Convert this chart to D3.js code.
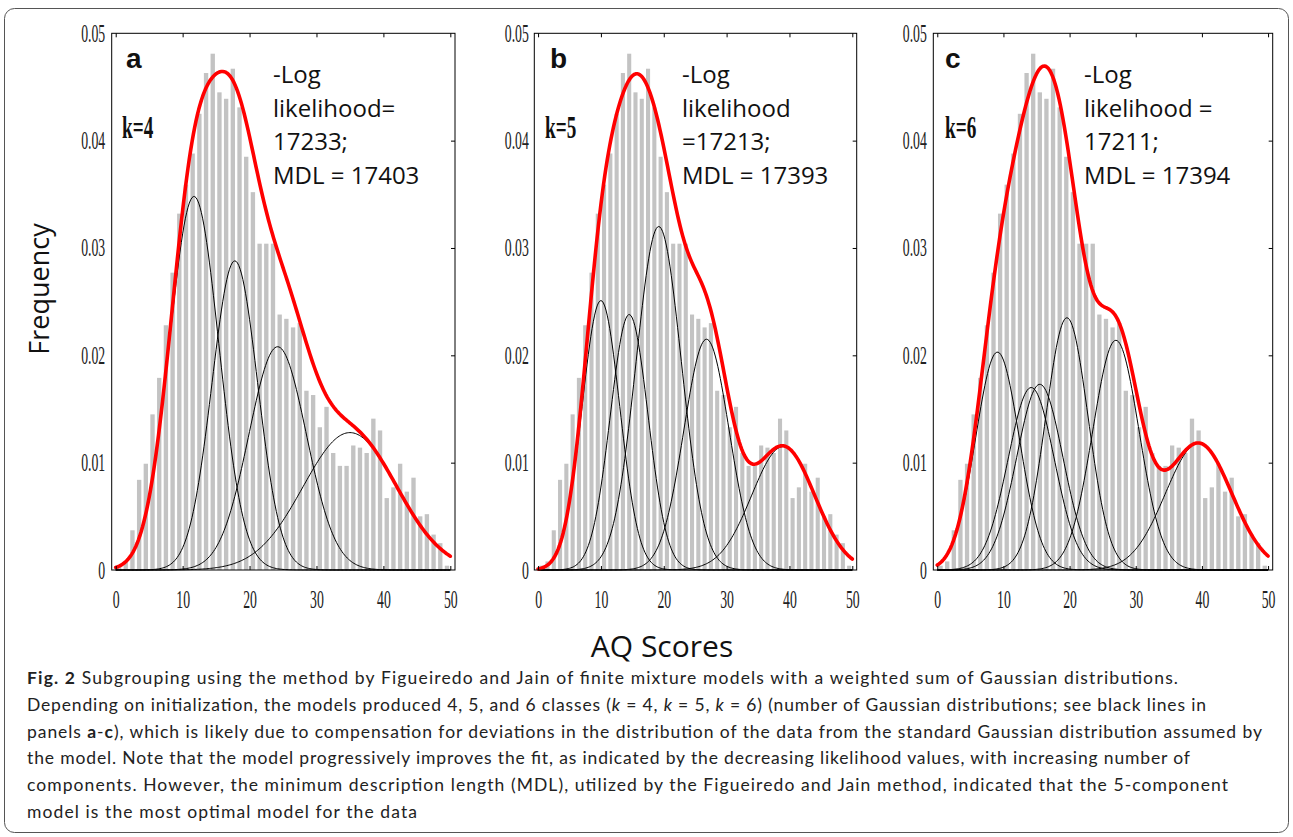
<!DOCTYPE html>
<html>
<head>
<meta charset="utf-8">
<script src="https://cdn.jsdelivr.net/npm/d3@7"></script>
<style>
  body { margin: 0; background: #fff; }
  svg { display: block; }
</style>
</head>
<body>
<div id="figure"></div>
<script>
// histogram of AQ scores (one bin per score, same data in all panels)
const binStart = [0,1,2,3,4,5,6,7,8,9,10,11,12,13,14,15,16,17,18,19,20,21,22,23,24,
    25,26,27,28,29,30,31,32,33,34,35,36,37,38,39,40,41,42,43,44,45,46,47,48,49];
const freq = [0.0004,0.0008,0.0037,0.0084,0.0099,0.0145,0.0179,0.0228,0.0277,0.0332,
    0.0359,0.0388,0.0425,0.0463,0.0481,0.0445,0.0439,0.0467,0.0431,0.0385,
    0.0352,0.0304,0.0304,0.0304,0.0238,0.0234,0.0226,0.0230,0.0167,0.0163,
    0.0133,0.0152,0.0109,0.0097,0.0097,0.0116,0.0114,0.0109,0.0141,0.0130,
    0.0067,0.0077,0.0099,0.0073,0.0086,0.0050,0.0052,0.0033,0.0025,0.0004];

// gaussian components: mean, peak height, sd
const muA = [11.7, 17.8, 24.2, 35.0];
const peakA = [0.0348, 0.0288, 0.0208, 0.0128];
const sdA = [3.7, 3.4, 4.3, 7.0];

const muB = [10.0, 14.5, 19.2, 26.8, 39.0];
const peakB = [0.0251, 0.0238, 0.0320, 0.0215, 0.0115];
const sdB = [3.0, 3.0, 3.6, 3.6, 5.0];

const muC = [9.1, 14.2, 15.5, 19.6, 27.0, 39.5];
const peakC = [0.0203, 0.0170, 0.0173, 0.0235, 0.0214, 0.0118];
const sdC = [3.3, 3.5, 3.5, 3.2, 3.5, 5.0];

const xTicks = [0, 10, 20, 30, 40, 50];
const yTicks = [0, 0.01, 0.02, 0.03, 0.04, 0.05];

const panelLetters = ["a", "b", "c"];
const kLabels = ["k=4", "k=5", "k=6"];
const statLines = [
    ["-Log", "likelihood=", "17233;", "MDL = 17403"],
    ["-Log", "likelihood", "=17213;", "MDL = 17393"],
    ["-Log", "likelihood =", "17211;", "MDL = 17394"]
];

const captionLines = [
    [["Fig. 2", "b"], [" Subgrouping using the method by Figueiredo and Jain of finite mixture models with a weighted sum of Gaussian distributions.", ""]],
    [["Depending on initialization, the models produced 4, 5, and 6 classes (", ""], ["k", "i"], [" = 4, ", ""], ["k", "i"], [" = 5, ", ""], ["k", "i"], [" = 6) (number of Gaussian distributions; see black lines in", ""]],
    [["panels ", ""], ["a", "b"], ["-", ""], ["c", "b"], ["), which is likely due to compensation for deviations in the distribution of the data from the standard Gaussian distribution assumed by", ""]],
    [["the model. Note that the model progressively improves the fit, as indicated by the decreasing likelihood values, with increasing number of", ""]],
    [["components. However, the minimum description length (MDL), utilized by the Figueiredo and Jain method, indicated that the 5-component", ""]],
    [["model is the most optimal model for the data", ""]]
];
const captionEnds = [1178, 1206, 1262, 1190, 1228, 417];

const W = 1293, H = 837;
const SX = 0.55;   // tick labels are squeezed horizontally in the original

let svg = d3.select("#figure").append("svg")
    .attr("width", W)
    .attr("height", H);

svg.append("rect")
    .attr("x", 4.5).attr("y", 8.5)
    .attr("width", W - 9).attr("height", H - 13)
    .attr("rx", 10)
    .attr("fill", "none")
    .attr("stroke", "#555")
    .attr("stroke-width", 1);

function MixturePanel(opts){
    let self = this;
    self.opts = opts;
    self.init();
};

MixturePanel.prototype.init = function(){
    let self = this;
    self.x = d3.scaleLinear()
        .domain([-0.6, 50.7])
        .range([self.opts.left, self.opts.right]);
    self.y = d3.scaleLinear()
        .domain([0, 0.05])
        .range([570, 33.3]);
    self.g = svg.append("g").attr("class", "panel-" + self.opts.letter);

    // component curves and their sum
    let grid = d3.range(0, 50.001, 0.2);
    self.components = self.opts.mu.map(function(m, i){
        return grid.map(function(v){
            let d = v - m;
            return [v, self.opts.peak[i] * Math.exp(-d * d / (2 * self.opts.sd[i] * self.opts.sd[i]))];
        });
    });
    self.mixture = grid.map(function(v, j){
        return [v, d3.sum(self.components, function(c){ return c[j][1]; })];
    });
};

MixturePanel.prototype.draw = function(){
    let self = this;
    let x = self.x, y = self.y;
    let bw = (x(1) - x(0)) * 0.65;

    self.g.selectAll("rect.bar")
        .data(binStart)
        .enter()
        .append("rect")
        .attr("class", "bar")
        .attr("x", function(d){ return x(d + 0.5) - bw / 2; })
        .attr("width", bw)
        .attr("y", function(d, i){ return y(freq[i]); })
        .attr("height", function(d, i){ return y(0) - y(freq[i]); })
        .attr("fill", "#c3c3c3");

    let line = d3.line()
        .x(function(d){ return x(d[0]); })
        .y(function(d){ return y(d[1]); });

    self.g.selectAll("path.comp")
        .data(self.components)
        .enter()
        .append("path")
        .attr("class", "comp")
        .attr("d", line)
        .attr("fill", "none")
        .attr("stroke", "#000")
        .attr("stroke-width", 1);

    self.g.append("path")
        .datum(self.mixture)
        .attr("d", line)
        .attr("fill", "none")
        .attr("stroke", "#ff0000")
        .attr("stroke-width", 3.6)
        .attr("stroke-linejoin", "round")
        .attr("stroke-linecap", "round");

    // axes: labels bottom/left, inward ticks on all but the left side
    let bottom = self.g.append("g")
        .attr("transform", "translate(0,570)")
        .call(d3.axisBottom(x).tickValues(xTicks).tickSizeInner(-4).tickSizeOuter(0).tickPadding(20));
    let top = self.g.append("g")
        .attr("transform", "translate(0,33.3)")
        .call(d3.axisTop(x).tickValues(xTicks).tickSizeInner(-4).tickSizeOuter(0).tickFormat(""));
    let right = self.g.append("g")
        .attr("transform", "translate(" + self.opts.right + ",0)")
        .call(d3.axisRight(y).tickValues(yTicks.slice(1, 5)).tickSizeInner(-4).tickSizeOuter(0).tickFormat(""));
    let left = self.g.append("g")
        .attr("transform", "translate(" + self.opts.left + ",0)")
        .call(d3.axisLeft(y).tickValues(yTicks).tickSize(0).tickFormat(function(d){ return d === 0 ? "0" : d3.format(".2f")(d); }));

    [bottom, top, right, left].forEach(function(a){
        a.select(".domain").remove();
        a.selectAll("line").attr("stroke", "#000");
        a.selectAll("text")
            .attr("font-family", "'Liberation Serif', 'Times New Roman', serif")
            .attr("font-size", 25)
            .attr("fill", "#222");
    });
    bottom.selectAll("text").attr("transform", "scale(" + SX + ",1)");
    left.selectAll("text")
        .attr("x", -self.opts.labelGap / SX)
        .attr("transform", "scale(" + SX + ",1)");

    self.g.append("rect")
        .attr("x", self.opts.left)
        .attr("y", 33.3)
        .attr("width", self.opts.right - self.opts.left)
        .attr("height", 570 - 33.3)
        .attr("fill", "none")
        .attr("stroke", "#000")
        .attr("stroke-width", 1);

    // panel letter, k label and fit statistics
    self.g.append("text")
        .attr("x", self.opts.letterX)
        .attr("y", 68)
        .attr("font-family", "'Liberation Sans', Arial, sans-serif")
        .attr("font-weight", "bold")
        .attr("font-size", 28)
        .attr("fill", "#111")
        .text(self.opts.letter);

    self.g.append("text")
        .attr("transform", "translate(" + self.opts.kX + ",138) scale(0.62,1)")
        .attr("font-family", "'Liberation Serif', 'Times New Roman', serif")
        .attr("font-weight", "bold")
        .attr("font-size", 31)
        .attr("fill", "#111")
        .text(self.opts.kLabel);

    self.g.selectAll("text.stat")
        .data(self.opts.stats)
        .enter()
        .append("text")
        .attr("class", "stat")
        .attr("x", self.opts.statX)
        .attr("y", function(d, i){ return 83 + i * 33.7; })
        .attr("font-family", "'Open Sans', sans-serif")
        .attr("font-size", 24)
        .attr("fill", "#111")
        .text(function(d){ return d; });
};

let layout = [
    {left: 111.7, right: 455, labelGap: 6.5, letterX: 126, kX: 122, statX: 273},
    {left: 534.3, right: 856.7, labelGap: 5.5, letterX: 550, kX: 545, statX: 682},
    {left: 933.3, right: 1272.7, labelGap: 6.5, letterX: 945, kX: 945, statX: 1084}
];
let comps = [[muA, peakA, sdA], [muB, peakB, sdB], [muC, peakC, sdC]];

layout.forEach(function(l, i){
    let p = new MixturePanel({
        left: l.left, right: l.right, labelGap: l.labelGap,
        letterX: l.letterX, kX: l.kX, statX: l.statX,
        letter: panelLetters[i], kLabel: kLabels[i], stats: statLines[i],
        mu: comps[i][0], peak: comps[i][1], sd: comps[i][2]
    });
    p.draw();
});

// shared axis titles
svg.append("text")
    .attr("transform", "translate(49,289) rotate(-90)")
    .attr("text-anchor", "middle")
    .attr("font-family", "'Open Sans', sans-serif")
    .attr("font-size", 27)
    .attr("fill", "#111")
    .text("Frequency");

svg.append("text")
    .attr("x", 662)
    .attr("y", 657)
    .attr("text-anchor", "middle")
    .attr("font-family", "'Open Sans', sans-serif")
    .attr("font-size", 30)
    .attr("fill", "#111")
    .text("AQ Scores");

// caption
let cap = svg.selectAll("text.caption")
    .data(captionLines)
    .enter()
    .append("text")
    .attr("class", "caption")
    .attr("x", 27)
    .attr("y", function(d, i){ return 684 + i * 26.8; })
    .attr("font-family", "Lato, 'Open Sans', sans-serif")
    .attr("font-size", 17.5)
    .attr("fill", "#222")
    .attr("textLength", function(d, i){ return captionEnds[i] - 27; })
    .attr("lengthAdjust", "spacing");

cap.selectAll("tspan")
    .data(function(d){ return d; })
    .enter()
    .append("tspan")
    .attr("font-weight", function(d){ return d[1] === "b" ? "bold" : null; })
    .attr("font-style", function(d){ return d[1] === "i" ? "italic" : null; })
    .text(function(d){ return d[0]; });
</script>
</body>
</html>
